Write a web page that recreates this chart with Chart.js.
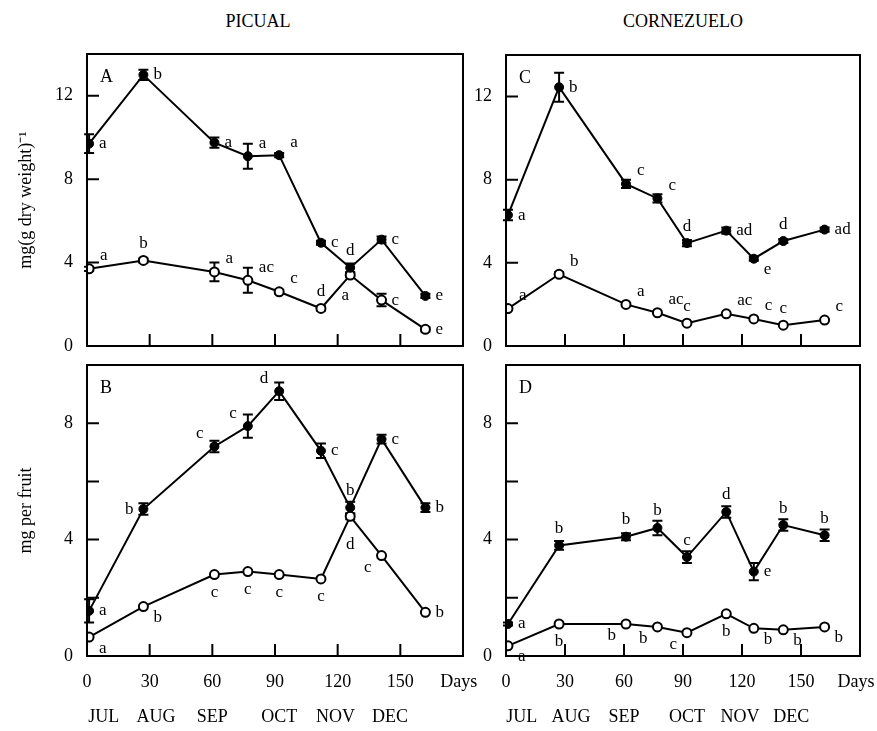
<!DOCTYPE html>
<html>
<head>
<meta charset="utf-8">
<script src="https://cdn.jsdelivr.net/npm/chart.js@4"></script>
<style>
  body { margin: 0; background: #fff; }
  #wrap { position: relative; width: 877px; height: 731px; font-family: 'Liberation Serif', 'Times New Roman', serif; }
  canvas { position: absolute; }
  .title { position: absolute; top: 11px; font-size: 18px; line-height: 20px; transform: translateX(-50%); }
</style>
</head>
<body>
<div id="wrap">
  <div class="title" style="left:258px">PICUAL</div>
  <div class="title" style="left:683px">CORNEZUELO</div>
  <canvas id="cA" width="480" height="365" style="left:0;top:0"></canvas>
  <canvas id="cC" width="457" height="365" style="left:420px;top:0"></canvas>
  <canvas id="cB" width="480" height="381" style="left:0;top:350px"></canvas>
  <canvas id="cD" width="457" height="381" style="left:420px;top:350px"></canvas>
</div>
<script>
// sampling days (days after 1 July)
const days = [1, 27, 61, 77, 92, 112, 126, 141, 162];
const dayTicks = [0, 30, 60, 90, 120, 150];
const daysLabelAt = 178;
const months = ["JUL", "AUG", "SEP", "OCT", "NOV", "DEC"];
const monthDays = [8, 33, 60, 92, 119, 145];
const yTicksConc = [0, 4, 8, 12];
const yTicksFruit = [0, 2, 4, 6, 8];

// A: Picual, mg (g dry weight)-1
const picualConcFilled = [9.7, 13.0, 9.75, 9.1, 9.15, 4.95, 3.75, 5.1, 2.4];
const picualConcFilledErr = [0.45, 0.25, 0.25, 0.6, 0.1, 0.1, 0.2, 0.15, 0.1];
const picualConcFilledSig = ["a", "b", "a", "a", "a", "c", "d", "c", "e"];
const picualConcOpen = [3.7, 4.1, 3.55, 3.15, 2.6, 1.8, 3.4, 2.2, 0.8];
const picualConcOpenErr = [0.1, 0.1, 0.45, 0.6, 0.1, 0.1, 0.1, 0.3, 0.1];
const picualConcOpenSig = ["a", "b", "a", "ac", "c", "d", "a", "c", "e"];

// B: Picual, mg per fruit
const picualFruitFilled = [1.55, 5.05, 7.2, 7.9, 9.1, 7.05, 5.1, 7.45, 5.1];
const picualFruitFilledErr = [0.4, 0.2, 0.2, 0.4, 0.3, 0.25, 0.2, 0.15, 0.15];
const picualFruitFilledSig = ["a", "b", "c", "c", "d", "c", "b", "c", "b"];
const picualFruitOpen = [0.65, 1.7, 2.8, 2.9, 2.8, 2.65, 4.8, 3.45, 1.5];
const picualFruitOpenErr = [0, 0, 0, 0, 0, 0, 0.1, 0, 0];
const picualFruitOpenSig = ["a", "b", "c", "c", "c", "c", "d", "c", "b"];

// C: Cornezuelo, mg (g dry weight)-1
const cornConcFilled = [6.3, 12.45, 7.8, 7.1, 4.95, 5.55, 4.2, 5.05, 5.6];
const cornConcFilledErr = [0.25, 0.7, 0.2, 0.2, 0.15, 0.15, 0.1, 0.1, 0.1];
const cornConcFilledSig = ["a", "b", "c", "c", "d", "ad", "e", "d", "ad"];
const cornConcOpen = [1.8, 3.45, 2.0, 1.6, 1.1, 1.55, 1.3, 1.0, 1.25];
const cornConcOpenErr = [0, 0.1, 0, 0, 0.05, 0, 0, 0, 0];
const cornConcOpenSig = ["a", "b", "a", "ac", "c", "ac", "c", "c", "c"];

// D: Cornezuelo, mg per fruit
const cornFruitFilled = [1.1, 3.8, 4.1, 4.4, 3.4, 4.95, 2.9, 4.5, 4.15];
const cornFruitFilledErr = [0.05, 0.15, 0.12, 0.25, 0.2, 0.2, 0.3, 0.2, 0.2];
const cornFruitFilledSig = ["a", "b", "b", "b", "c", "d", "e", "b", "b"];
const cornFruitOpen = [0.35, 1.1, 1.1, 1.0, 0.8, 1.45, 0.95, 0.9, 1.0];
const cornFruitOpenErr = [0, 0, 0, 0, 0, 0, 0, 0, 0];
const cornFruitOpenSig = ["a", "b", "b", "b", "c", "b", "b", "b", "b"];

// where each significance letter sits relative to its point
const place = {
  r: [10, 0, "left"], ar: [11, -13, "left"], a: [0, -17, "center"], b: [0, 18, "center"],
  l: [-10, 0, "right"], al: [-11, -13, "right"], br: [10, 11, "left"], bl: [-10, 12, "right"],
  bb: [0, 28, "center"], bw: [-5, 20, "center"]
};

const FONT = "'Liberation Serif', 'Times New Roman', serif";
Chart.defaults.font.family = FONT;
Chart.defaults.font.size = 18;
Chart.defaults.color = "#000";

const panelPlugin = {
  id: "panel",
  beforeDatasetsDraw(chart) {
    const ctx = chart.ctx;
    const y = chart.scales.y;
    ctx.save();
    ctx.strokeStyle = "#000";
    ctx.lineWidth = 2;
    chart.data.datasets.forEach((ds, di) => {
      const meta = chart.getDatasetMeta(di);
      meta.data.forEach((pt, i) => {
        const e = ds.errors[i];
        if (!e) return;
        const v = ds.data[i].y;
        const y1 = y.getPixelForValue(v + e), y2 = y.getPixelForValue(v - e);
        ctx.beginPath();
        ctx.moveTo(pt.x, y1); ctx.lineTo(pt.x, y2);
        ctx.moveTo(pt.x - 5, y1); ctx.lineTo(pt.x + 5, y1);
        ctx.moveTo(pt.x - 5, y2); ctx.lineTo(pt.x + 5, y2);
        ctx.stroke();
      });
    });
    ctx.restore();
  },
  afterDraw(chart, args, opts) {
    const { ctx, chartArea: a } = chart;
    const x = chart.scales.x, y = chart.scales.y;
    ctx.save();
    ctx.strokeStyle = "#000";
    ctx.lineWidth = 2;
    ctx.strokeRect(a.left, a.top, a.right - a.left, a.bottom - a.top);
    // inward ticks
    ctx.beginPath();
    dayTicks.forEach(v => {
      const px = x.getPixelForValue(v);
      ctx.moveTo(px, a.bottom); ctx.lineTo(px, a.bottom - 12);
    });
    y.ticks.forEach(t => {
      const py = y.getPixelForValue(t.value);
      ctx.moveTo(a.left, py); ctx.lineTo(a.left + 12, py);
    });
    ctx.stroke();
    // significance letters
    ctx.fillStyle = "#000";
    ctx.font = "17px " + FONT;
    ctx.textBaseline = "middle";
    chart.data.datasets.forEach((ds, di) => {
      const meta = chart.getDatasetMeta(di);
      meta.data.forEach((pt, i) => {
        const [dx, dy, align] = place[ds.places[i]];
        ctx.textAlign = align;
        ctx.fillText(ds.sig[i], pt.x + dx, pt.y + dy);
      });
    });
    // panel letter
    ctx.font = "18px " + FONT;
    ctx.textAlign = "left";
    ctx.fillText(opts.letter, a.left + 13, a.top + 23);
    ctx.restore();
  }
};

function makePanel(id, p) {
  const scales = {
    x: {
      type: "linear", min: 0, max: 180,
      grid: { display: false, drawTicks: false }, border: { display: false },
      afterBuildTicks: s => { s.ticks = (p.bottom ? dayTicks.concat([daysLabelAt]) : dayTicks).map(v => ({ value: v })); },
      ticks: { display: p.bottom, autoSkip: false, maxRotation: 0, padding: 15,
               callback: v => v === daysLabelAt ? "Days" : v },
      afterFit: s => { s.height = p.xHeight; s.paddingLeft = 0; s.paddingRight = 0; }
    },
    y: {
      min: 0, max: p.yMax,
      grid: { display: false, drawTicks: false }, border: { display: false },
      afterBuildTicks: s => { s.ticks = p.yTicks.map(v => ({ value: v })); },
      ticks: { padding: 14, autoSkip: false, callback: v => v % 4 === 0 ? v : "" },
      title: { display: !!p.yTitle, text: p.yTitle, padding: { top: 15 }, font: { size: 18 } },
      afterFit: s => { s.width = p.yWidth; s.paddingTop = 0; s.paddingBottom = 0; }
    }
  };
  if (p.bottom) {
    scales.m = {
      type: "linear", position: "bottom", weight: 1, min: 0, max: 180,
      grid: { display: false, drawTicks: false }, border: { display: false },
      afterBuildTicks: s => { s.ticks = monthDays.map(v => ({ value: v })); },
      ticks: { autoSkip: false, maxRotation: 0, padding: 12, callback: (v, i) => months[i] },
      afterFit: s => { s.height = 37; s.paddingLeft = 0; s.paddingRight = 0; }
    };
  }
  const mk = (vals, errs, sig, places, open) => ({
    data: days.map((d, i) => ({ x: d, y: vals[i] })),
    borderColor: "#000", borderWidth: 2,
    pointRadius: 4.5, pointBorderColor: "#000",
    pointBackgroundColor: open ? "#fff" : "#000",
    pointBorderWidth: open ? 2 : 1,
    errors: errs, sig: sig, places: places
  });
  new Chart(document.getElementById(id), {
    type: "line",
    data: { datasets: [
      mk(p.filled, p.filledErr, p.filledSig, p.filledPlace, false),
      mk(p.open, p.openErr, p.openSig, p.openPlace, true)
    ] },
    options: {
      responsive: false, animation: false, devicePixelRatio: 1,
      layout: { padding: { top: p.padTop, right: 17, left: 0, bottom: 0 } },
      plugins: { legend: { display: false }, tooltip: { enabled: false }, panel: { letter: p.letter } },
      scales: scales
    },
    plugins: [panelPlugin]
  });
}

makePanel("cA", {
  letter: "A", yMax: 14, yTicks: yTicksConc, yWidth: 87, padTop: 54, bottom: false, xHeight: 19,
  yTitle: "mg(g dry weight)\u207B\u00B9",
  filled: picualConcFilled, filledErr: picualConcFilledErr, filledSig: picualConcFilledSig,
  filledPlace: ["r", "r", "r", "ar", "ar", "r", "a", "r", "r"],
  open: picualConcOpen, openErr: picualConcOpenErr, openSig: picualConcOpenSig,
  openPlace: ["ar", "a", "ar", "ar", "ar", "a", "bw", "r", "r"]
});
makePanel("cC", {
  letter: "C", yMax: 14, yTicks: yTicksConc, yWidth: 86, padTop: 55, bottom: false, xHeight: 19,
  filled: cornConcFilled, filledErr: cornConcFilledErr, filledSig: cornConcFilledSig,
  filledPlace: ["r", "r", "ar", "ar", "a", "r", "br", "a", "r"],
  open: cornConcOpen, openErr: cornConcOpenErr, openSig: cornConcOpenSig,
  openPlace: ["ar", "ar", "ar", "ar", "a", "ar", "ar", "a", "ar"]
});
makePanel("cB", {
  letter: "B", yMax: 10, yTicks: yTicksFruit, yWidth: 87, padTop: 15, bottom: true, xHeight: 38,
  yTitle: "mg per fruit",
  filled: picualFruitFilled, filledErr: picualFruitFilledErr, filledSig: picualFruitFilledSig,
  filledPlace: ["r", "l", "al", "al", "al", "r", "a", "r", "r"],
  open: picualFruitOpen, openErr: picualFruitOpenErr, openSig: picualFruitOpenSig,
  openPlace: ["br", "br", "b", "b", "b", "b", "bb", "bl", "r"]
});
makePanel("cD", {
  letter: "D", yMax: 10, yTicks: yTicksFruit, yWidth: 86, padTop: 15, bottom: true, xHeight: 38,
  filled: cornFruitFilled, filledErr: cornFruitFilledErr, filledSig: cornFruitFilledSig,
  filledPlace: ["r", "a", "a", "a", "a", "a", "r", "a", "a"],
  open: cornFruitOpen, openErr: cornFruitOpenErr, openSig: cornFruitOpenSig,
  openPlace: ["br", "b", "bl", "bl", "bl", "b", "br", "br", "br"]
});
</script>
</body>
</html>
